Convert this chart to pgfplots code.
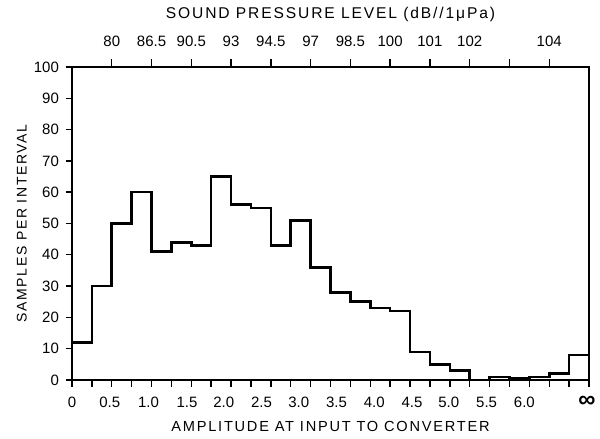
\documentclass[border=0pt]{standalone}
\usepackage{pgfplots}
\pgfplotsset{compat=1.18}
\usepackage{fontspec}
\setmainfont{Liberation Sans}
\newfontfamily\spaced[LetterSpace=12]{Liberation Sans}

\begin{document}
\begin{tikzpicture}
\path[use as bounding box] (-36pt,-29.5pt) rectangle (264pt,190pt);
% lower axis: amplitude bins
\begin{axis}[
  scale only axis, width=258.5pt, height=156.5pt,
  xmin=0, xmax=26, ymin=0, ymax=100,
  clip=false,
  axis line style={line width=0.9pt},
  xtick pos=left, ytick pos=left,
  tick align=outside,
  tick style={line width=0.7pt, black},
  xtick={0,1.9,3.85,5.78,7.63,9.53,11.4,13.3,15.2,17.1,18.95,20.85,22.75,25.9},
  xticklabels={0,0.5,1.0,1.5,2.0,2.5,3.0,3.5,4.0,4.5,5.0,5.5,6.0,{\fontsize{12}{12}\selectfont\textbf{∞}}},
  major x tick style={draw=none},
  minor xtick={0,1,...,26},
  minor tick length=3.5pt,
  major tick length=3pt,
  ytick={0,10,...,100},
  /pgf/number format/assume math mode=true,
  ticklabel style={font=\fontsize{7.5}{8}\selectfont},
  xticklabel style={anchor=center, yshift=-8pt},
  xlabel={\spaced AMPLITUDE AT INPUT TO CONVERTER},
  ylabel={\spaced SAMPLES PER INTERVAL},
  label style={font=\fontsize{7}{9}\selectfont},
  xlabel style={at={(axis description cs:0.5,-0.147)}, anchor=center, font=\fontsize{7.3}{9}\selectfont},
  ylabel style={at={(axis description cs:-0.097,0.5)}, anchor=center},
]
\addplot[const plot, line width=1.3pt, line join=miter] coordinates {
  (0,0) (0,12) (1,30) (2,50) (3,60) (4,41) (5,44) (6,43) (7,65) (8,56)
  (9,55) (10,43) (11,51) (12,36) (13,28) (14,25) (15,23) (16,22)
  (17,9) (18,5) (19,3) (20,0) (21,1) (22,0.5) (23,1) (24,2) (25,8)
  (26,8) (26,0)
};
\end{axis}
% upper axis: sound pressure level
\begin{axis}[
  scale only axis, width=258.5pt, height=156.5pt,
  xmin=0, xmax=26, ymin=0, ymax=100,
  axis x line*=top, hide y axis,
  axis line style={line width=0.9pt, -},
  tick align=outside,
  tick style={line width=0.7pt, black},
  major tick length=4pt,
  xtick={2,4,...,24},
  xticklabels={80,86.5,90.5,93,94.5,97,98.5,100,101,102,,104},
  ticklabel style={font=\fontsize{7.5}{8}\selectfont},
  xticklabel style={yshift=2.5pt},
  xlabel={\spaced SOUND PRESSURE LEVEL (dB//1μPa)},
  xlabel style={at={(axis description cs:0.5,1.169)}, anchor=center, font=\fontsize{7.8}{9}\selectfont},
]
\end{axis}
\end{tikzpicture}
\end{document}
